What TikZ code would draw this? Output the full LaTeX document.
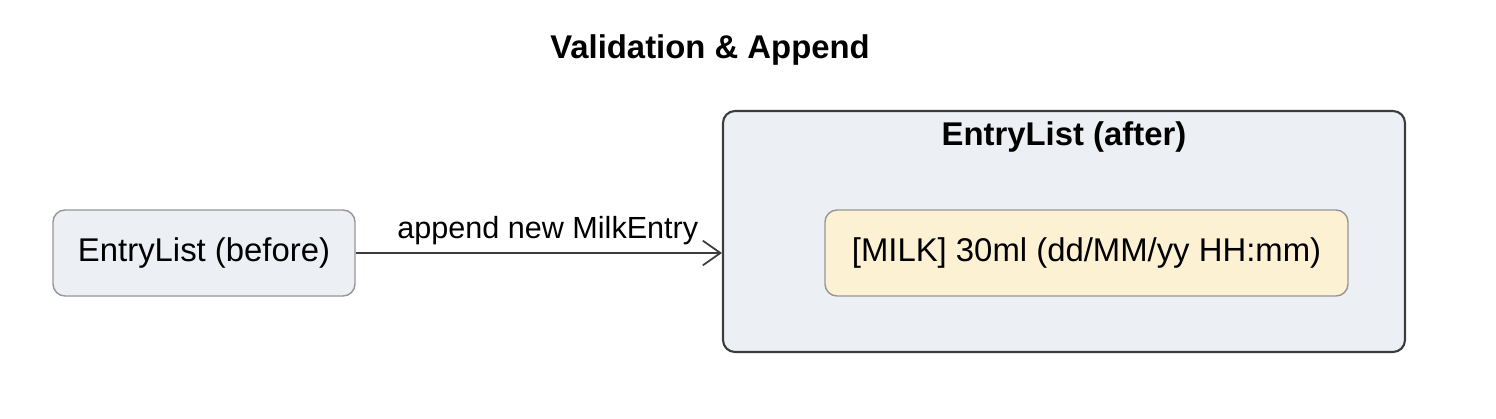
\documentclass[tikz,border=0pt]{standalone}
\usepackage{fontspec}
\setmainfont{Liberation Sans}
\definecolor{listfill}{RGB}{236, 239, 243}
\definecolor{entryfill}{RGB}{253, 241, 211}
\definecolor{softborder}{RGB}{150, 150, 150}
\definecolor{darkborder}{RGB}{60, 60, 60}
\usetikzlibrary{arrows.meta, positioning}

\begin{document}
\begin{tikzpicture}
                \useasboundingbox (0,0) rectangle (29.92,-8.36);
                % Styles
                \tikzstyle{state}=[draw=softborder, line width=0.8pt, rounded corners=0.24cm, fill=listfill, minimum width=6.04cm, minimum height=1.72cm, font=\fontsize{18.7}{22}\selectfont]
                \tikzstyle{group}=[draw=darkborder, line width=1.2pt, rounded corners=0.24cm, fill=listfill, minimum width=13.64cm, minimum height=4.82cm]
                \tikzstyle{entry}=[draw=softborder, line width=0.8pt, rounded corners=0.24cm, fill=entryfill, minimum width=10.46cm, minimum height=1.72cm, font=\fontsize{18.7}{22}\selectfont]
                \tikzstyle{heading}=[font=\fontsize{18.7}{22}\selectfont\bfseries]
                
                % Title
                \node[heading] (title) at (14.2,-1.0) {Validation \& Append};
                
                % Before
                \node[state] (before) at (4.08,-5.06) {EntryList (before)};
                
                % After
                \node[group] (after) at (21.28,-4.63) {};
                \node[heading] (aftertitle) at (21.28,-2.74) {EntryList (after)};
                \node[entry] (milk) at (21.73,-5.06) {[MILK] 30ml (dd/MM/yy HH:mm)};
                
                % Arrow
                \draw[-{Straight Barb[length=10pt,width=14pt]}, line width=1pt, darkborder] (before.east) -- (after.west |- before.east)
                    node[midway, above=1pt, xshift=0.18cm, text=black, font=\fontsize{17.4}{20}\selectfont] (appendlabel) {append new MilkEntry};
            \end{tikzpicture}
\end{document}
